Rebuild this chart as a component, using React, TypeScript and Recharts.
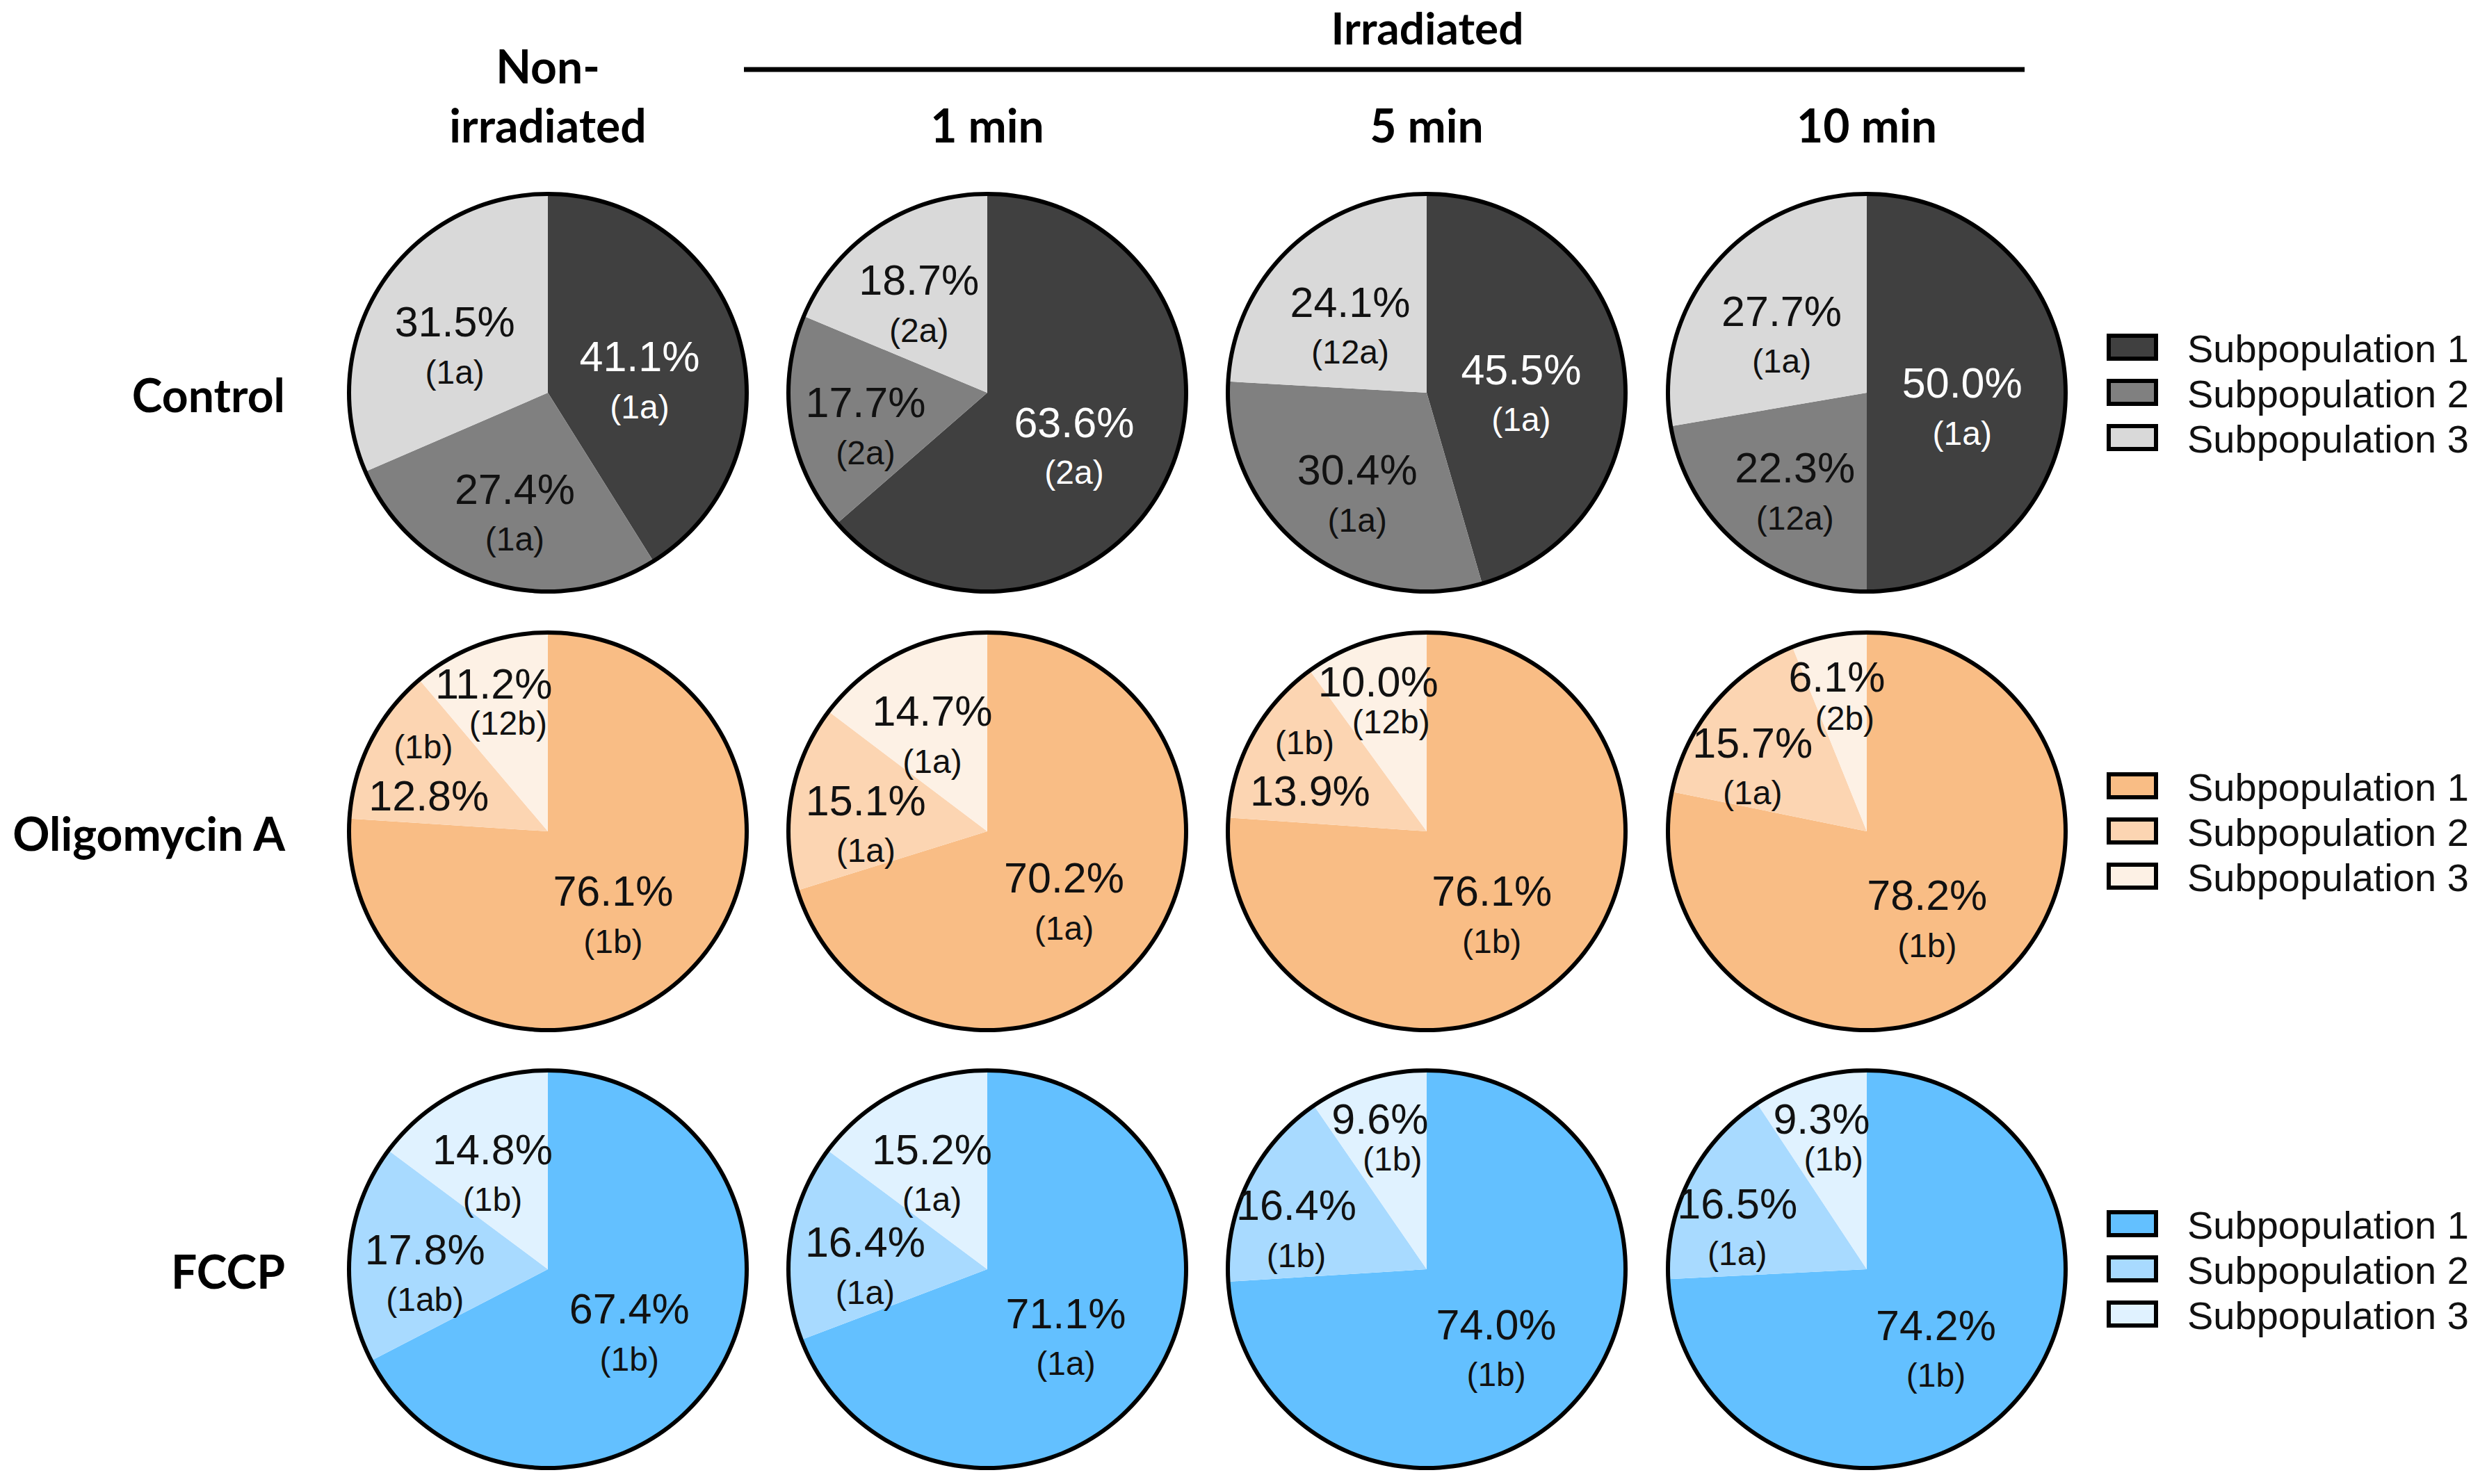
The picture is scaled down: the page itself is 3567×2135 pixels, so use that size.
import React from 'react';
import { PieChart, Pie, Cell } from 'recharts';

// column / row headings
const columnTitles = ['1 min', '5 min', '10 min'];
const treatments = ['Control', 'Oligomycin A', 'FCCP'];
const subpopulations = ['Subpopulation 1', 'Subpopulation 2', 'Subpopulation 3'];

// percentages per column (Non-irradiated, 1 min, 5 min, 10 min) -> [sub1, sub2, sub3]
const controlValues = [
  [41.1, 27.4, 31.5],
  [63.6, 17.7, 18.7],
  [45.5, 30.4, 24.1],
  [50.0, 22.3, 27.7],
];
const controlGroups = [
  ['1a', '1a', '1a'],
  ['2a', '2a', '2a'],
  ['1a', '1a', '12a'],
  ['1a', '12a', '1a'],
];

const oligomycinValues = [
  [76.1, 12.8, 11.2],
  [70.2, 15.1, 14.7],
  [76.1, 13.9, 10.0],
  [78.2, 15.7, 6.1],
];
const oligomycinGroups = [
  ['1b', '1b', '12b'],
  ['1a', '1a', '1a'],
  ['1b', '1b', '12b'],
  ['1b', '1a', '2b'],
];

const fccpValues = [
  [67.4, 17.8, 14.8],
  [71.1, 16.4, 15.2],
  [74.0, 16.4, 9.6],
  [74.2, 16.5, 9.3],
];
const fccpGroups = [
  ['1b', '1ab', '1b'],
  ['1a', '1a', '1a'],
  ['1b', '1b', '1b'],
  ['1b', '1a', '1b'],
];

const controlColors = ['#404040', '#808080', '#d9d9d9'];
const oligomycinColors = ['#f9bd85', '#fcd5b2', '#fdf1e5'];
const fccpColors = ['#63c0ff', '#a8daff', '#e0f2ff'];

const rows = [
  { values: controlValues, groups: controlGroups, colors: controlColors, lightText: [true, false, false] },
  { values: oligomycinValues, groups: oligomycinGroups, colors: oligomycinColors, lightText: [false, false, false] },
  { values: fccpValues, groups: fccpGroups, colors: fccpColors, lightText: [false, false, false] },
];

// layout
const W = 3567;
const H = 2135;
const colX = [788, 1420, 2052, 2685];
const rowY = [565, 1196, 1826];
const R = 286;
const BOX = 600;
const RAD = Math.PI / 180;
const bold = 'Lato, "Open Sans", sans-serif';
const arial = '"Liberation Sans", Arial, sans-serif';
const MAIN_FS = 61;
const SUB_FS = 48;

const makeLabel = (lightText: boolean[], values: number[]) => (props: any) => {
  const { cx, cy, midAngle, percent, index, payload } = props;
  const dx = Math.cos(-midAngle * RAD);
  const dy = Math.sin(-midAngle * RAD);
  const color = lightText[index] ? '#ffffff' : '#111111';
  const total = values.reduce((a, b) => a + b, 0);
  const nextThin = index + 1 < values.length && values[index + 1] / total < 0.12;

  let mx: number, my: number, sx: number, sy: number;
  if (percent < 0.12) {
    // thin wedge: value near the rim, group label further in along the same radius
    mx = cx + R * 0.79 * dx;
    my = cy + R * 0.79 * dy;
    sx = cx + R * 0.58 * dx;
    sy = cy + R * 0.58 * dy;
  } else if (percent < 0.14 && nextThin) {
    // crowded pair of thin wedges: group label sits above the value
    const px = cx + R * 0.67 * dx;
    const py = cy + R * 0.67 * dy;
    mx = px; my = py + 35;
    sx = px - 8; sy = py - 35;
  } else {
    const f = percent >= 0.4 ? 0.48 : percent >= 0.2 ? 0.56 : 0.62;
    const px = cx + R * f * dx + (nextThin ? -28 : 0);
    const py = cy + R * f * dy + 20;
    mx = px; my = py - 34;
    sx = px; sy = py + 38;
  }
  return (
    <g>
      <text x={mx} y={my} fill={color} textAnchor="middle" dominantBaseline="central"
        fontFamily={arial} fontSize={MAIN_FS}>
        {payload.value.toFixed(1)}%
      </text>
      <text x={sx} y={sy} fill={color} textAnchor="middle" dominantBaseline="central"
        fontFamily={arial} fontSize={SUB_FS}>
        ({payload.group})
      </text>
    </g>
  );
};

const SinglePie = ({ values, groups, colors, lightText }: any) => {
  const data = values.map((v: number, i: number) => ({ name: subpopulations[i], value: v, group: groups[i] }));
  return (
    <PieChart width={BOX} height={BOX} margin={{ top: 0, right: 0, bottom: 0, left: 0 }}>
      <Pie
        data={data}
        dataKey="value"
        cx={BOX / 2}
        cy={BOX / 2}
        outerRadius={R}
        startAngle={90}
        endAngle={-270}
        stroke="none"
        labelLine={false}
        label={makeLabel(lightText, values)}
        isAnimationActive={false}
      >
        {data.map((_: any, i: number) => (
          <Cell key={`c-${i}`} fill={colors[i]} />
        ))}
      </Pie>
      {/* black outline round the pie */}
      <Pie
        data={[{ value: 1 }]}
        dataKey="value"
        cx={BOX / 2}
        cy={BOX / 2}
        innerRadius={R - 3}
        outerRadius={R + 3}
        startAngle={90}
        endAngle={-270}
        fill="#000"
        stroke="none"
        isAnimationActive={false}
      />
    </PieChart>
  );
};

export default function App() {
  return (
    <div style={{ position: 'absolute', left: 0, top: 0, width: W, height: H, background: '#fff' }}>
      <svg width={W} height={H} style={{ position: 'absolute', left: 0, top: 0 }}>
        {/* headings */}
        <text x={2053} y={64} textAnchor="middle" fontFamily={bold} fontWeight={700} fontSize={64}>Irradiated</text>
        <line x1={1070} x2={2912} y1={100} y2={100} stroke="#000" strokeWidth={7} />
        <text x={colX[0]} y={120} textAnchor="middle" fontFamily={bold} fontWeight={700} fontSize={66}>Non-</text>
        <text x={colX[0]} y={205} textAnchor="middle" fontFamily={bold} fontWeight={700} fontSize={66}>irradiated</text>
        {columnTitles.map((t, i) => (
          <text key={t} x={colX[i + 1]} y={205} textAnchor="middle" fontFamily={bold} fontWeight={700} fontSize={66}>{t}</text>
        ))}
        {treatments.map((t, i) => (
          <text key={t} x={410} y={rowY[i] + 2} textAnchor="end" dominantBaseline="central"
            fontFamily={bold} fontWeight={700} fontSize={66}>{t}</text>
        ))}
        {/* legends */}
        {rows.map((row, r) =>
          subpopulations.map((s, i) => (
            <g key={`${r}-${i}`}>
              <rect x={3033} y={rowY[r] - 82 + i * 65} width={68} height={33}
                fill={row.colors[i]} stroke="#000" strokeWidth={6} />
              <text x={3146} y={rowY[r] - 64 + i * 65} dominantBaseline="central"
                fontFamily={arial} fontSize={56} fill="#111">{s}</text>
            </g>
          ))
        )}
      </svg>
      {rows.map((row, r) =>
        colX.map((x, c) => (
          <div key={`p-${r}-${c}`} style={{ position: 'absolute', left: x - BOX / 2, top: rowY[r] - BOX / 2 }}>
            <SinglePie values={row.values[c]} groups={row.groups[c]} colors={row.colors} lightText={row.lightText} />
          </div>
        ))
      )}
    </div>
  );
}
